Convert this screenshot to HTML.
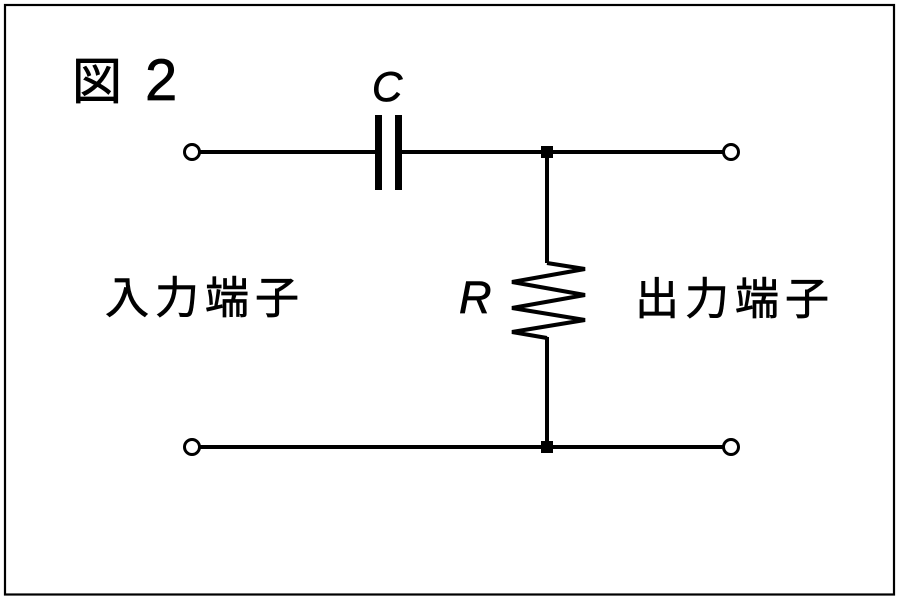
<!DOCTYPE html>
<html><head><meta charset="utf-8"><style>
html,body{margin:0;padding:0;background:#fff;}
svg{display:block;}
</style></head><body>
<svg width="900" height="600" viewBox="0 0 900 600" xmlns="http://www.w3.org/2000/svg">
<rect x="0" y="0" width="900" height="600" fill="#fff"/>
<rect x="5" y="5" width="889" height="589.5" fill="none" stroke="#000" stroke-width="2.2"/>
<g stroke="#000" stroke-width="4" fill="none">
<line x1="200" y1="152" x2="378" y2="152"/>
<line x1="399" y1="152" x2="723" y2="152"/>
<line x1="200" y1="447" x2="723" y2="447"/>
<line x1="547" y1="152" x2="547" y2="263"/>
<polyline points="547,263 585,269 512,282 585,295 512,308 585,320 512,332 547,338" stroke-linejoin="miter"/>
<line x1="547" y1="337" x2="547" y2="447"/>
</g>
<g stroke="#000" stroke-width="3" fill="#fff">
<circle cx="192" cy="152" r="7.5"/>
<circle cx="731" cy="152" r="7.5"/>
<circle cx="192" cy="447" r="7.5"/>
<circle cx="731" cy="447" r="7.5"/>
</g>
<rect x="375" y="115" width="7" height="75" fill="#000"/>
<rect x="395" y="115" width="7" height="75" fill="#000"/>
<rect x="541" y="146" width="12" height="12" fill="#000"/>
<rect x="541" y="441" width="12" height="12" fill="#000"/>
<g font-family="'Liberation Sans','Noto Sans CJK JP',sans-serif" fill="#000" stroke="#000" stroke-width="0.7">
<text x="72" y="99" font-size="50">図</text>
<text x="145" y="100" font-size="58">2</text>
<text x="372" y="101" font-size="42" font-style="italic">C</text>
<text x="459" y="313" font-size="45" font-style="italic">R</text>
<text y="313" font-size="44"><tspan x="105">入</tspan><tspan x="155">力</tspan><tspan x="205">端</tspan><tspan x="255">子</tspan></text>
<text y="314" font-size="44"><tspan x="635">出</tspan><tspan x="685">力</tspan><tspan x="735">端</tspan><tspan x="785">子</tspan></text>
</g>
</svg>
</body></html>
